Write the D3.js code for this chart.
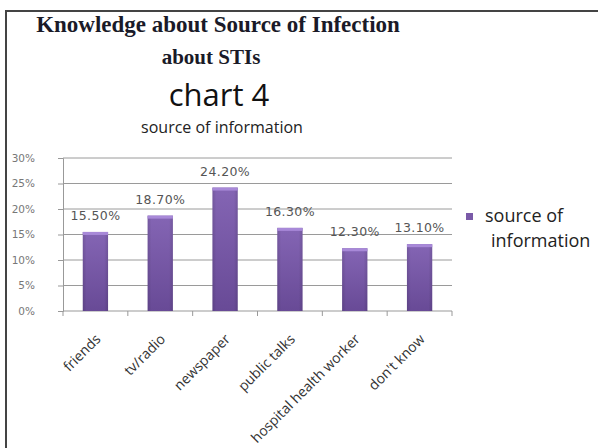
<!DOCTYPE html>
<html>
<head>
<meta charset="utf-8">
<script src="https://cdn.jsdelivr.net/npm/d3@7"></script>
<style>
  body { margin: 0; background: #fff; }
</style>
</head>
<body>
<script>
// chart data
var categories = ["friends", "tv/radio", "newspaper", "public talks", "hospital health worker", "don't know"];
var values = [15.5, 18.7, 24.2, 16.3, 12.3, 13.1];
var value_labels = ["15.50%", "18.70%", "24.20%", "16.30%", "12.30%", "13.10%"];
var y_ticks = [0, 5, 10, 15, 20, 25, 30];
var series_name = ["source of", "information"];

var width = 598, height = 448;
var plot = {left: 63, right: 452, top: 158, bottom: 311};

var svg = d3.select("body").append("svg")
    .attr("width", width)
    .attr("height", height);

var defs = svg.append("defs");
var grad = defs.append("linearGradient")
    .attr("id", "bar_grad")
    .attr("x1", 0).attr("y1", 0).attr("x2", 0).attr("y2", 1);
grad.append("stop").attr("offset", "0%").attr("stop-color", "#8465b4");
grad.append("stop").attr("offset", "100%").attr("stop-color", "#684a96");

var side = defs.append("linearGradient")
    .attr("id", "bar_side")
    .attr("x1", 0).attr("y1", 0).attr("x2", 1).attr("y2", 0);
side.append("stop").attr("offset", "0%").attr("stop-color", "#000").attr("stop-opacity", 0.12);
side.append("stop").attr("offset", "15%").attr("stop-color", "#000").attr("stop-opacity", 0);
side.append("stop").attr("offset", "85%").attr("stop-color", "#000").attr("stop-opacity", 0);
side.append("stop").attr("offset", "100%").attr("stop-color", "#000").attr("stop-opacity", 0.12);

// frame (left and top edges only)
svg.append("path")
    .attr("d", "M6,448 L6,11 L598,11")
    .attr("fill", "none")
    .attr("stroke", "#444")
    .attr("stroke-width", 2);

// titles
svg.append("text")
    .attr("x", 218).attr("y", 32)
    .attr("text-anchor", "middle")
    .style("font-family", "'Liberation Serif', serif")
    .style("font-weight", "bold")
    .style("font-size", "23px")
    .attr("fill", "#1a1a28")
    .text("Knowledge about Source of Infection");
svg.append("text")
    .attr("x", 211).attr("y", 64)
    .attr("text-anchor", "middle")
    .style("font-family", "'Liberation Serif', serif")
    .style("font-weight", "bold")
    .style("font-size", "21px")
    .attr("fill", "#1a1a28")
    .text("about STIs");
svg.append("text")
    .attr("x", 219).attr("y", 106)
    .attr("text-anchor", "middle")
    .style("font-family", "'Open Sans', sans-serif")
    .style("font-size", "31px")
    .attr("fill", "#111")
    .text("chart 4");
svg.append("text")
    .attr("x", 222).attr("y", 133)
    .attr("text-anchor", "middle")
    .style("font-family", "'Open Sans', sans-serif")
    .style("font-size", "16px")
    .attr("fill", "#222")
    .text("source of information");

var x_scale = d3.scaleBand()
    .domain(categories)
    .range([plot.left, plot.right])
    .paddingInner(0.61)
    .paddingOuter(0.305);

var x_edges = d3.scaleBand()
    .domain(categories)
    .range([plot.left, plot.right]);

var y_scale = d3.scaleLinear()
    .domain([0, 30])
    .range([plot.bottom, plot.top]);

// y axis
var y_axis = svg.append("g")
    .attr("transform", "translate(" + plot.left + ",0)")
    .call(d3.axisLeft(y_scale)
        .tickValues(y_ticks)
        .tickSize(5)
        .tickPadding(23)
        .tickFormat(function(d) { return d + "%"; }));
y_axis.select(".domain").attr("stroke", "#999");
y_axis.selectAll(".tick line").attr("stroke", "#999");
y_axis.selectAll(".tick text")
    .style("font-family", "'DejaVu Sans', sans-serif")
    .style("font-size", "10.5px")
    .attr("fill", "#777");

// grid lines
svg.append("g")
    .selectAll("line")
    .data(y_ticks.filter(function(d) { return d > 0; }))
    .enter().append("line")
    .attr("x1", plot.left)
    .attr("x2", plot.right)
    .attr("y1", function(d) { return y_scale(d); })
    .attr("y2", function(d) { return y_scale(d); })
    .attr("stroke", "#9a9a9a")
    .attr("stroke-width", 1);

// x axis with ticks at band edges
var edges = categories.map(function(c) { return x_edges(c); }).concat([plot.right]);
svg.append("line")
    .attr("x1", plot.left).attr("x2", plot.right)
    .attr("y1", plot.bottom).attr("y2", plot.bottom)
    .attr("stroke", "#999");
svg.append("g")
    .selectAll("line")
    .data(edges)
    .enter().append("line")
    .attr("x1", function(d) { return d; })
    .attr("x2", function(d) { return d; })
    .attr("y1", plot.bottom)
    .attr("y2", plot.bottom + 5)
    .attr("stroke", "#999");

// bars
var bars = svg.append("g").attr("id", "bars");
bars.selectAll(".bar")
    .data(values)
    .enter().append("rect")
    .attr("class", "bar")
    .attr("x", function(d, i) { return x_scale(categories[i]); })
    .attr("y", function(d) { return y_scale(d); })
    .attr("width", x_scale.bandwidth())
    .attr("height", function(d) { return plot.bottom - y_scale(d); })
    .attr("fill", "url(#bar_grad)");
bars.selectAll(".bar_side")
    .data(values)
    .enter().append("rect")
    .attr("class", "bar_side")
    .attr("x", function(d, i) { return x_scale(categories[i]); })
    .attr("y", function(d) { return y_scale(d); })
    .attr("width", x_scale.bandwidth())
    .attr("height", function(d) { return plot.bottom - y_scale(d); })
    .attr("fill", "url(#bar_side)");
bars.selectAll(".bar_cap")
    .data(values)
    .enter().append("rect")
    .attr("class", "bar_cap")
    .attr("x", function(d, i) { return x_scale(categories[i]); })
    .attr("y", function(d) { return y_scale(d); })
    .attr("width", x_scale.bandwidth())
    .attr("height", 3)
    .attr("fill", "#a889d8");

// value labels
svg.append("g")
    .selectAll("text")
    .data(values)
    .enter().append("text")
    .attr("x", function(d, i) { return x_scale(categories[i]) + x_scale.bandwidth() / 2; })
    .attr("y", function(d) { return y_scale(d) - 12; })
    .attr("text-anchor", "middle")
    .style("font-family", "'DejaVu Sans', sans-serif")
    .style("font-size", "12.5px")
    .style("letter-spacing", "0.4px")
    .attr("fill", "#555")
    .text(function(d, i) { return value_labels[i]; });

// category labels
svg.append("g")
    .selectAll("text")
    .data(categories)
    .enter().append("text")
    .attr("transform", function(d) {
      var cx = x_scale(d) + x_scale.bandwidth() / 2 + 6;
      return "translate(" + cx + "," + (plot.bottom + 29) + ") rotate(-45)";
    })
    .attr("text-anchor", "end")
    .style("font-family", "'Open Sans', sans-serif")
    .style("font-size", "14px")
    .attr("fill", "#333")
    .text(function(d) { return d; });

// legend
var legend = svg.append("g").attr("id", "legend");
legend.append("rect")
    .attr("x", 466).attr("y", 213)
    .attr("width", 7).attr("height", 7)
    .attr("fill", "#7a5aa8");
legend.selectAll("text")
    .data(series_name)
    .enter().append("text")
    .attr("x", function(d, i) { return i == 0 ? 485 : 491; })
    .attr("y", function(d, i) { return 222 + i * 25; })
    .style("font-family", "'Open Sans', sans-serif")
    .style("font-size", "18px")
    .attr("fill", "#222")
    .text(function(d) { return d; });
</script>
</body>
</html>
